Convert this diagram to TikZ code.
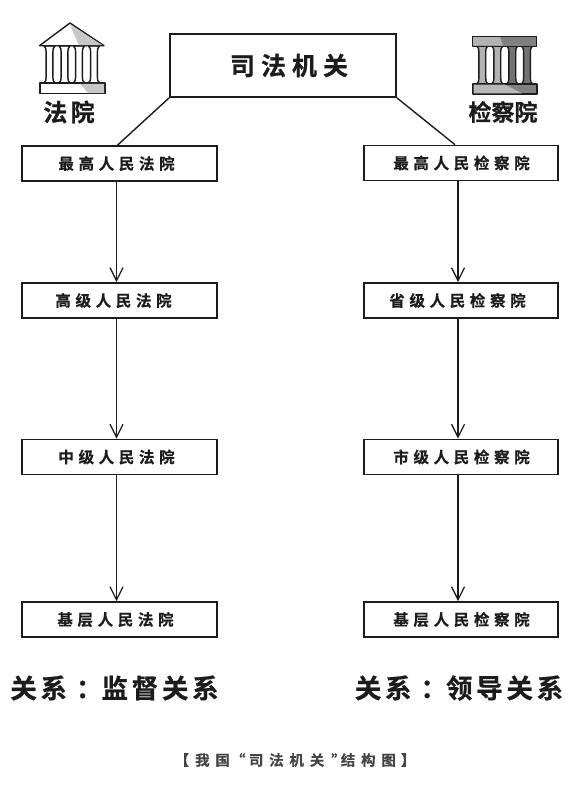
\documentclass[tikz,border=0pt]{standalone}
\usepackage{fontspec}
\setmainfont{Noto Sans CJK SC}[BoldFont={Noto Sans CJK SC Bold}]
\newfontfamily\smallcjk{Noto Sans CJK SC Bold}[LetterSpace=30,FakeBold=0.4]
\newfontfamily\titlecjk{Noto Sans CJK SC Bold}[LetterSpace=24,FakeBold=0.6]
\newfontfamily\headcjk{Noto Sans CJK SC Bold}[LetterSpace=14,FakeBold=0.6]
\newfontfamily\plaincjk{Noto Sans CJK SC Bold}[FakeBold=0.6]
\newfontfamily\relcjk{Noto Sans CJK SC Bold}[LetterSpace=14,FakeBold=0.7]
\newfontfamily\capcjk{Noto Sans CJK SC Bold}[LetterSpace=40,FakeBold=0.2]
\usetikzlibrary{arrows.meta}
\definecolor{ink}{HTML}{1C1C1C}
\definecolor{capink}{HTML}{444444}
\tikzset{
  x=1pt,y=-1pt,
  orgbox/.style={draw=ink,line width=1.7pt,fill=white,minimum width=195pt,minimum height=35pt,inner sep=0pt,text=ink,font=\fontsize{15.5}{17}\smallcjk},
  rightbox/.style={orgbox,minimum width=194pt},
  mainbox/.style={draw=ink,line width=1.7pt,fill=white,minimum width=226pt,minimum height=63pt,inner sep=0pt,text=ink,font=\fontsize{25}{28}\titlecjk},
  flow/.style={draw=ink,line width=1.3pt,-{Straight Barb[length=13pt,width=13pt,line width=1.3pt]}},
  link/.style={draw=ink,line width=1.4pt},
  relation/.style={text=ink,font=\fontsize{26.5}{30}\relcjk,inner sep=0pt},
  icontext/.style={text=ink,inner sep=0pt},
  part/.style={draw=ink,line width=1.4pt,line join=round},
}
% one pillar: centre x, top y, bottom y, fill colour
\newcommand{\pillar}[4]{%
  \draw[part,fill=#4] (#1-5.5,#2) .. controls (#1-3.6,#2+2) and (#1-3.4,#2+3) .. (#1-3.4,#2+6)
    -- (#1-3.4,#3-6) .. controls (#1-3.4,#3-3) and (#1-3.6,#3-2) .. (#1-5.5,#3)
    -- (#1+5.5,#3) .. controls (#1+3.6,#3-2) and (#1+3.4,#3-3) .. (#1+3.4,#3-6)
    -- (#1+3.4,#2+6) .. controls (#1+3.4,#2+3) and (#1+3.6,#2+2) .. (#1+5.5,#2) -- cycle;}
\begin{document}
\begin{tikzpicture}
\useasboundingbox[fill=white] (0,0) rectangle (579,788);

% left temple
\pillar{49.5}{46}{83}{white}
\pillar{64.5}{46}{83}{white}
\pillar{79}{46}{83}{white}
\pillar{94}{46}{83}{white}
\draw[part,fill=white] (70,23) -- (104,45.7) -- (39.5,45.7) -- cycle;
\fill[black!22] (70.5,25) -- (102,45) -- (79,45) -- (73,32) -- cycle;
\draw[part,fill=white] (40,83) rectangle (105,93.7);
\fill[black!22] (80,83.8) -- (104.2,83.8) -- (104.2,93) -- (88,93) -- cycle;

% right temple
\pillar{482.3}{46}{84}{black!30}
\pillar{497.3}{46}{84}{black!30}
\pillar{512.3}{46}{84}{black!55}
\pillar{527}{46}{84}{black!55}
\draw[part,fill=black!50] (472.5,36.3) rectangle (536.3,46.3);
\fill[black!30] (473.2,37) -- (500,37) -- (503,45.6) -- (473.2,45.6) -- cycle;
\draw[part,fill=black!50] (473,84) rectangle (537,94);
\fill[black!28] (473.7,84.7) -- (505,84.7) -- (522,93.3) -- (473.7,93.3) -- cycle;

% labels of the icons
\node[icontext,font=\fontsize{24}{26}\headcjk] (lawcourt) at (69,112) {法院};
\node[icontext,font=\fontsize{23}{26}\plaincjk] (procur) at (503,112) {检察院};

% main box
\node[mainbox] (main) at (283,65.5) {\hspace*{12pt}司法机关};

% left column
\node[orgbox] (la) at (119.5,163.5) {\hspace*{-6pt}最高人民法院};
\node[orgbox] (lb) at (119.5,300.5) {\hspace*{-12pt}高级人民法院};
\node[orgbox] (lc) at (119.5,457) {\hspace*{-6pt}中级人民法院};
\node[orgbox] (ld) at (119.5,619.5) {\hspace*{-8pt}基层人民法院};

% right column
\node[rightbox] (ra) at (461,163) {\hspace*{1pt}最高人民检察院};
\node[rightbox] (rb) at (461,300.5) {\hspace*{-7pt}省级人民检察院};
\node[rightbox] (rc) at (461,457) {\hspace*{1pt}市级人民检察院};
\node[rightbox] (rd) at (461,619.5) {\hspace*{1pt}基层人民检察院};

% connectors
\draw[link] (main.south west) -- ([xshift=-2pt]la.north);
\draw[link] (main.south east) -- ([xshift=-6pt]ra.north);
\draw[flow] ([xshift=-3pt]la.south) -- ([xshift=-3pt]lb.north);
\draw[flow] ([xshift=-3pt]lb.south) -- ([xshift=-3pt]lc.north);
\draw[flow] ([xshift=-3pt]lc.south) -- ([xshift=-3pt]ld.north);
\draw[flow] ([xshift=-3pt]ra.south) -- ([xshift=-3pt]rb.north);
\draw[flow] ([xshift=-3pt]rb.south) -- ([xshift=-3pt]rc.north);
\draw[flow] ([xshift=-3pt]rc.south) -- ([xshift=-3pt]rd.north);

% relations
\node[relation] (relleft) at (114.5,688) {关系\hspace{9pt}：\hspace{-1pt}监督关系};
\node[relation] (relright) at (459,688) {关系\hspace{9pt}：\hspace{-1pt}领导关系};

% caption
\node[text=capink,inner sep=0pt,font=\fontsize{14.5}{16}\capcjk] (cap) at (295,760) {【\hspace{6pt}我国\hspace{1pt}“\hspace{3.5pt}司法机关\hspace{7pt}”\hspace{-5pt}结构图\hspace{5pt}】};
\end{tikzpicture}
\end{document}
